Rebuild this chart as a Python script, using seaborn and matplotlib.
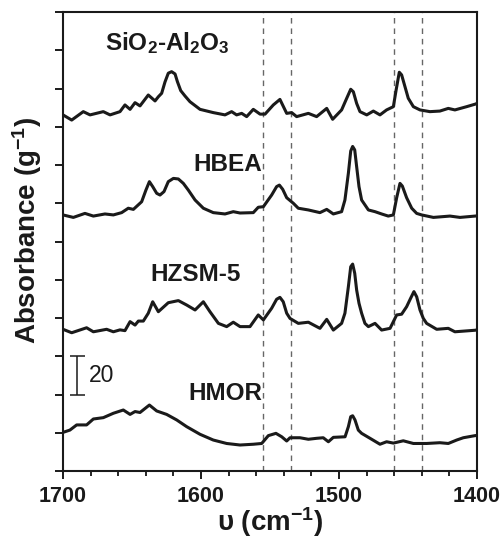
import numpy as np
import pandas as pd
import matplotlib
matplotlib.use('Agg')
import matplotlib.pyplot as plt
import seaborn as sns

# Espectros (numero de onda em cm-1, absorbancia com deslocamento)
wn_sio2 = [1700, 1693.7, 1685.3, 1680.4, 1670.8, 1665.9, 1658.7, 1655.1, 1651.4, 1647.8,
           1644.2, 1638.2, 1633.3, 1630.9, 1628.5, 1626.1, 1623.7, 1621.3, 1618.8, 1617.1,
           1614.7, 1611.6, 1608.0, 1600.7, 1591.1, 1582.6, 1577.8, 1574.2, 1570.5, 1566.9,
           1562.1, 1557.2, 1553.6, 1547.6, 1542.8, 1537.9, 1534.3, 1530.7, 1522.2, 1516.2,
           1508.9, 1504.6, 1498.1, 1494.4, 1491.5, 1489.6, 1487.2, 1484.8, 1479.9, 1475.1,
           1470.3, 1465.5, 1460.6, 1458.6, 1456.3, 1454.6, 1452.2, 1449.8, 1446.1, 1441.3,
           1434.1, 1426.9, 1420.8, 1416.0, 1407.5, 1401.4, 1400]
abs_sio2 = [186.2, 183.5, 187.9, 186.2, 187.9, 186.2, 187.9, 191.4, 189.1, 192.6,
            190.9, 196.6, 193.5, 195.7, 197.5, 203.4, 208.0, 208.8, 207.6, 203.6,
            198.9, 196.1, 193.1, 189.1, 187.4, 186.2, 187.9, 186.2, 187.0, 185.3,
            189.1, 186.6, 186.6, 191.4, 194.3, 187.0, 187.4, 185.3, 187.0, 185.3,
            189.6, 183.9, 188.8, 194.9, 199.6, 198.3, 192.2, 187.9, 186.2, 188.2,
            186.2, 188.8, 190.5, 199.2, 208.5, 207.1, 201.0, 194.9, 190.5, 188.8,
            187.9, 188.2, 189.6, 188.8, 190.5, 191.8, 192.2]

wn_hbea = [1700, 1692.5, 1684.1, 1678.0, 1669.6, 1663.5, 1657.5, 1652.7, 1649.0, 1643.0,
           1639.9, 1637.4, 1635.0, 1632.1, 1629.7, 1626.8, 1623.7, 1620.0, 1616.4, 1612.8,
           1609.2, 1604.3, 1598.3, 1591.1, 1582.6, 1576.6, 1571.7, 1562.1, 1558.5, 1554.8,
           1548.8, 1545.2, 1543.2, 1540.8, 1537.9, 1533.1, 1529.5, 1522.2, 1513.8, 1508.9,
           1504.1, 1498.1, 1495.7, 1493.2, 1491.5, 1490.1, 1488.6, 1487.2, 1485.5, 1483.6,
           1478.7, 1473.9, 1469.1, 1464.3, 1460.6, 1458.2, 1455.8, 1454.1, 1451.0, 1447.3,
           1443.7, 1440.1, 1431.6, 1419.6, 1412.3, 1401.4, 1400]
abs_hbea = [133.9, 132.6, 134.7, 133.3, 134.4, 133.9, 135.1, 137.4, 136.8, 140.8,
            146.9, 151.3, 148.7, 145.2, 144.3, 146.1, 151.3, 153.0, 152.7, 150.4,
            146.9, 141.7, 137.4, 135.1, 134.4, 135.6, 134.9, 135.1, 137.9, 138.2,
            144.3, 148.7, 149.5, 147.3, 142.9, 140.0, 137.4, 136.5, 135.1, 136.8,
            134.4, 135.6, 141.7, 155.7, 167.3, 169.7, 167.9, 159.1, 148.7, 141.7,
            136.5, 135.6, 134.4, 133.3, 133.9, 142.9, 150.4, 149.0, 142.9, 137.4,
            134.7, 133.9, 132.6, 133.3, 132.6, 133.3, 133.4]

wn_hzsm5 = [1700, 1693.7, 1682.9, 1678.0, 1668.4, 1663.5, 1658.7, 1655.1, 1651.4, 1647.8,
            1645.4, 1641.8, 1638.2, 1635.0, 1630.9, 1623.7, 1616.4, 1610.4, 1604.3, 1598.3,
            1593.5, 1587.4, 1581.4, 1576.6, 1571.7, 1564.5, 1558.5, 1554.8, 1548.8, 1545.2,
            1542.8, 1540.4, 1537.9, 1535.5, 1529.5, 1522.2, 1513.8, 1508.9, 1504.1, 1498.1,
            1495.7, 1493.2, 1491.5, 1490.1, 1488.6, 1487.2, 1485.5, 1483.6, 1481.2, 1478.7,
            1473.9, 1469.1, 1463.0, 1458.2, 1454.6, 1451.0, 1448.1, 1445.7, 1443.7, 1441.3,
            1438.9, 1436.5, 1429.2, 1420.8, 1416.0, 1401.4, 1400]
abs_hzsm5 = [74.1, 72.3, 74.9, 72.8, 74.1, 72.8, 73.8, 73.4, 78.1, 76.3,
             78.4, 78.4, 82.5, 88.5, 83.3, 88.0, 89.1, 86.8, 84.2, 88.5,
             83.3, 77.2, 75.5, 77.8, 75.5, 75.5, 81.6, 79.0, 85.1, 89.8,
             90.8, 88.5, 82.5, 79.8, 77.2, 77.8, 74.6, 79.3, 73.7, 77.2,
             82.5, 96.4, 106.8, 108.2, 103.4, 94.6, 87.7, 82.5, 77.2, 75.5,
             77.2, 73.7, 74.6, 81.6, 82.0, 85.9, 90.3, 93.8, 91.1, 84.2,
             79.8, 77.2, 74.1, 74.6, 72.8, 73.6, 73.8]

wn_hmor = [1700, 1695.0, 1690.1, 1682.9, 1678.0, 1670.8, 1663.5, 1656.3, 1651.4, 1647.8,
           1644.2, 1637.4, 1632.1, 1624.9, 1617.6, 1610.4, 1600.7, 1591.1, 1581.4, 1571.7,
           1562.1, 1556.0, 1551.2, 1545.7, 1541.5, 1537.9, 1535.5, 1528.3, 1522.2, 1516.2,
           1511.4, 1507.7, 1504.1, 1495.6, 1493.2, 1491.5, 1490.1, 1488.4, 1486.0, 1483.6,
           1477.5, 1470.3, 1465.5, 1460.6, 1453.4, 1446.1, 1436.5, 1426.9, 1420.8, 1414.7,
           1409.9, 1401.4, 1400]
abs_hmor = [20.2, 21.4, 24.1, 24.1, 27.2, 27.9, 30.2, 31.9, 29.6, 31.1,
            30.6, 34.5, 31.4, 29.6, 26.7, 23.2, 19.2, 16.2, 14.4, 13.6,
            14.0, 14.4, 18.5, 19.7, 17.9, 15.7, 17.4, 17.4, 16.6, 17.1,
            17.4, 15.3, 17.6, 17.9, 23.2, 28.4, 28.9, 26.7, 21.4, 19.7,
            17.1, 14.0, 15.3, 14.6, 15.8, 14.4, 14.4, 14.8, 14.4, 16.2,
            17.4, 18.5, 18.6]

amostras = ['SiO$_2$-Al$_2$O$_3$', 'HBEA', 'HZSM-5', 'HMOR']
rotulo_x = [1624.6, 1580.8, 1603.6, 1582.6]
rotulo_y = [223.8, 160.5, 102.5, 40.3]

# Regioes de Bronsted (1555-1535) e Lewis (1460-1440)
linhas_banda = [1555, 1535, 1460, 1440]
escala_x = 1689.5
escala_y = 50
escala_valor = 20

sns.set_style('ticks')
plt.rcParams['font.family'] = ['Liberation Sans', 'DejaVu Sans']
plt.rcParams['mathtext.default'] = 'regular'

fig = plt.figure(figsize=(5.04, 5.38), dpi=100)
ax = fig.add_axes([0.125, 0.1245, 0.8214, 0.8532])

for wn, ab in [(wn_sio2, abs_sio2), (wn_hbea, abs_hbea), (wn_hzsm5, abs_hzsm5), (wn_hmor, abs_hmor)]:
    sns.lineplot(x=wn, y=ab, color='#1a1a1a', linewidth=2.2, sort=False, estimator=None, ax=ax)

for xv in linhas_banda:
    ax.axvline(xv, color='#666666', linewidth=1.0, linestyle=(0, (4, 3.5)), zorder=0)

for nome, xt, yt in zip(amostras, rotulo_x, rotulo_y):
    ax.text(xt, yt, nome, fontsize=17.5, fontweight='bold', color='#1a1a1a',
            ha='center', va='center')

# Barra de escala
ax.errorbar(escala_x, escala_y, yerr=escala_valor / 2, color='#1a1a1a',
            elinewidth=1.1, capsize=5.4, capthick=1.1)
ax.text(escala_x - 8, escala_y, str(escala_valor), fontsize=16.5, color='#1a1a1a',
        ha='left', va='center')

ax.set_xlim(1700, 1400)
ax.set_ylim(0, 240)
ax.set_xticks([1700, 1600, 1500, 1400])
ax.set_xticks(np.arange(1400, 1701, 20), minor=True)
ax.set_yticks(np.arange(0, 241, 20))
ax.set_yticklabels([])
ax.tick_params(axis='x', which='major', length=6, width=1.4, labelsize=15.5, pad=5, colors='#1a1a1a')
ax.tick_params(axis='x', which='minor', length=3.5, width=1.4)
ax.tick_params(axis='y', length=6, width=1.4, colors='#1a1a1a')
for lbl in ax.get_xticklabels():
    lbl.set_fontweight('bold')

for s in ax.spines.values():
    s.set_linewidth(1.5)
    s.set_color('#1a1a1a')

ax.set_xlabel('υ (cm$^{-1}$)', fontsize=20, fontweight='bold', color='#1a1a1a')
ax.set_ylabel('Absorbance (g$^{-1}$)', fontsize=20, fontweight='bold', color='#1a1a1a')
ax.xaxis.set_label_coords(0.5, -0.075)
ax.yaxis.set_label_coords(-0.045, 0.524)

fig.savefig('out.png', dpi=100)
